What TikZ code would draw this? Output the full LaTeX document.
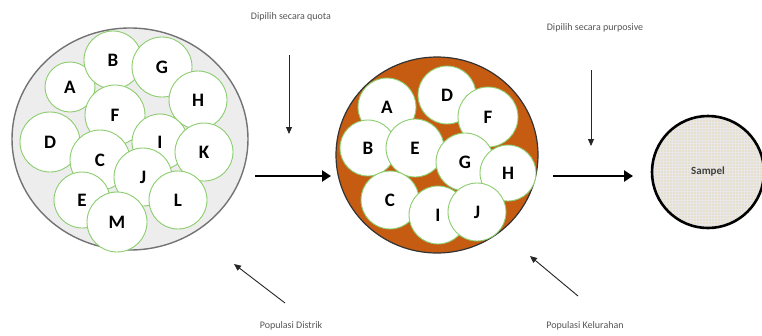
\documentclass[tikz,border=0pt]{standalone}
\usepackage{fontspec}
\setmainfont{Carlito}
\usetikzlibrary{shapes.geometric,arrows.meta,patterns}
\definecolor{ballgreen}{RGB}{140,205,110}
\definecolor{kelorange}{RGB}{197,92,18}
\definecolor{poolgray}{RGB}{237,237,237}
\definecolor{sandbeige}{RGB}{231,224,206}
\definecolor{notegray}{RGB}{85,85,85}
\tikzset{
  ball/.style={circle, draw=ballgreen, fill=white, line width=0.9pt, inner sep=0pt,
    font=\fontsize{19}{19}\selectfont\bfseries},
  note/.style={font=\fontsize{10}{10}\selectfont, text=notegray},
  bigarrow/.style={line width=2.6pt, -{Triangle[length=9pt,width=11pt]}},
  thinarrow/.style={line width=0.9pt, draw=black!85, -{Triangle[length=7pt,width=6pt]}}
}
\begin{document}
\begin{tikzpicture}[x=1pt,y=-1pt]
  \useasboundingbox (0,0) rectangle (762,335);
  % ------ Populasi Distrik -----------------------------
  \node[ellipse, draw=black!55, line width=1.4pt, fill=poolgray,
        minimum width=236pt, minimum height=222pt] (pop1) at (130,139) {};
  \foreach \n/\x/\y/\r in {A/70/87/25, B/113/60/29, G/162/67/30, H/198/100/29,
      F/115/115/30, D/50/142/30, C/100/160/30, I/160/142/28, K/204/152/29,
      J/143/177/29, E/82/200/28, L/178/200/29, M/117/222/30}
    \node[ball, minimum size=2*\r pt] (d\n) at (\x,\y) {\n};
  % ------ Populasi Kelurahan -----------------------------
  \node[ellipse, draw=black!80, line width=1.2pt, fill=kelorange,
        minimum width=202pt, minimum height=196pt] (pop2) at (437,155) {};
  \foreach \n/\x/\y/\r in {A/387/107/29, D/447/95/29, F/488/117/30, B/368/148/28,
      E/415/148/29, G/465/162/29, H/508/173/28, C/390/200/29, I/438/215/29,
      J/477/212/29}
    \node[ball, minimum size=2*\r pt] (k\n) at (\x,\y) {\n};
  % ------ Sampel -----------------------------
  \node[circle, fill=sandbeige, minimum size=112pt,
        postaction={pattern=grid, pattern color=black!9},
        postaction={draw=black, line width=2.6pt},
        font=\fontsize{11}{11}\selectfont\bfseries, text=black!75] (samp) at (708,172) {Sampel};
  % ------ arrows and notes -----------------------------
  \coordinate (ha) at (255,176);  \coordinate (hb) at (331,176);
  \coordinate (hc) at (553,176);  \coordinate (hd) at (633,176);
  \draw[bigarrow] (ha) -- (hb);
  \draw[bigarrow] (hc) -- (hd);
  \node[note] (quota) at (291,17) {Dipilih secara quota};
  \node[note] (purp) at (595,28) {Dipilih secara purposive};
  \node[note] (distrik) at (291,326) {Populasi Distrik};
  \node[note] (kelur) at (585,326) {Populasi Kelurahan};
  \coordinate (qa) at (289,55);   \coordinate (qb) at (289,134);
  \coordinate (pa) at (591,70);   \coordinate (pb) at (591,146);
  \coordinate (da) at (285,303);  \coordinate (db) at (234,264);
  \coordinate (ka) at (578,296);  \coordinate (kb) at (530,256);
  \draw[thinarrow] (qa) -- (qb);
  \draw[thinarrow] (pa) -- (pb);
  \draw[thinarrow] (da) -- (db);
  \draw[thinarrow] (ka) -- (kb);
\end{tikzpicture}
\end{document}
